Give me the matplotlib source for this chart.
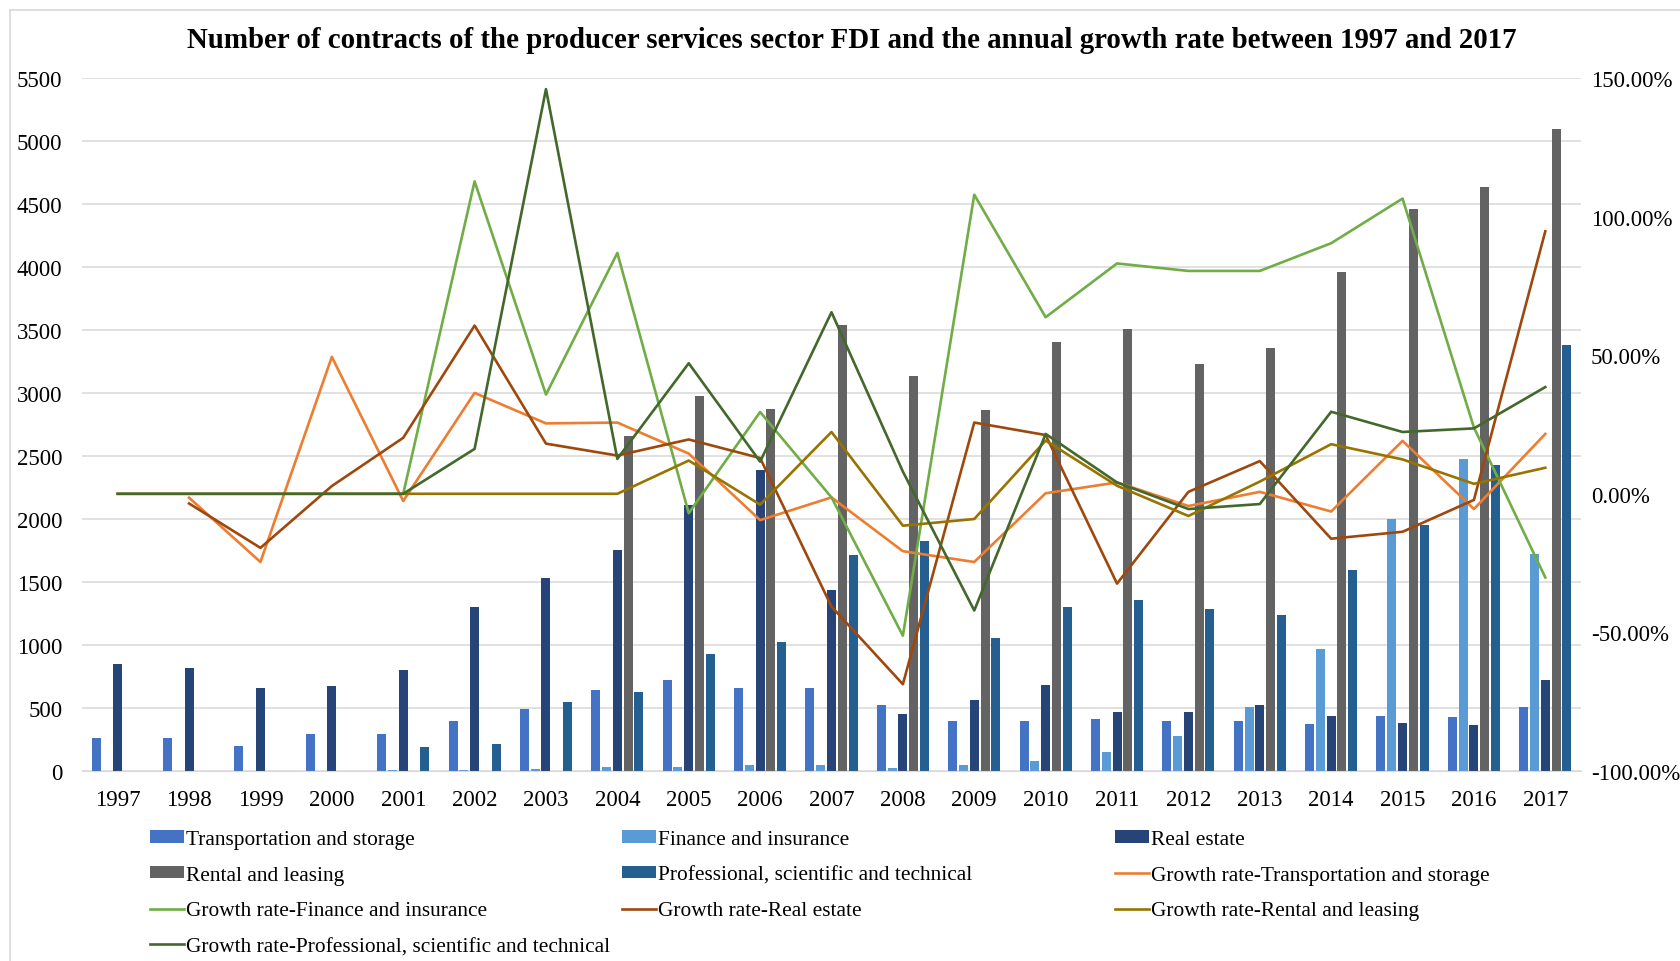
"""
Producer services FDI contracts and annual growth rate, 1997-2017
"""

# Import libraries
import numpy as np
import matplotlib
matplotlib.use('Agg')
import matplotlib.pyplot as plt
from matplotlib.lines import Line2D

plt.rcParams['font.family'] = ['Liberation Serif', 'DejaVu Serif']

# Data
years = [str(y) for y in range(1997, 2018)]

transport = [265, 265, 195, 295, 295, 395, 490, 640, 725, 655, 655, 525, 400, 400, 410, 395, 395, 370, 440, 425, 510]
finance = [0, 0, 0, 0, 5, 5, 18, 34, 34, 48, 48, 24, 48, 79, 150, 277, 507, 967, 2000, 2478, 1726]
real_estate = [847, 819, 661, 674, 803, 1303, 1532, 1757, 2114, 2389, 1439, 450, 566, 683, 467, 467, 522, 434, 380, 365, 723]
rental = [0, 0, 0, 0, 0, 0, 0, 2659, 2979, 2876, 3537, 3138, 2862, 3405, 3511, 3227, 3354, 3957, 4460, 4632, 5092]
professional = [0, 0, 0, 0, 189, 218, 547, 624, 926, 1024, 1715, 1828, 1053, 1299, 1358, 1285, 1241, 1599, 1956, 2431, 3380]

nan = np.nan
g_transport = [nan, -1.4, -24.6, 49.4, -2.6, 36.4, 25.4, 25.7, 14.5, -9.5, -1.3, -20.7, -24.6, 0.2, 4.1, -4.4, 0.7, -6.4, 19.1, -5.5, 21.6]
g_finance = [nan, nan, nan, nan, 0, 112.7, 35.8, 86.9, -7.0, 29.5, -1.3, -51.2, 107.9, 63.7, 83.1, 80.4, 80.4, 90.4, 106.5, 23.9, -30.2]
g_real_estate = [nan, -3.5, -19.5, 2.8, 20.2, 60.7, 18.1, 13.8, 19.6, 12.9, -40.7, -68.7, 25.7, 21.2, -32.4, 0.7, 11.8, -16.2, -13.7, -2.2, 94.7]
g_rental = [0, 0, 0, 0, 0, 0, 0, 0, 12.0, -3.9, 22.3, -11.5, -9.1, 19.2, 2.9, -8.0, 4.4, 17.9, 12.4, 3.6, 9.4]
g_professional = [0, 0, 0, 0, 0, 16.2, 146.0, 12.6, 47.1, 11.6, 65.5, 8.0, -42.1, 21.6, 4.1, -5.5, -3.7, 29.6, 22.3, 23.6, 38.5]

bar_names = ['Transportation and storage', 'Finance and insurance', 'Real estate',
             'Rental and leasing', 'Professional, scientific and technical']
bar_data = [transport, finance, real_estate, rental, professional]
bar_colors = ['#4472C4', '#5B9BD5', '#264478', '#636363', '#255E91']

line_names = ['Growth rate-' + n for n in bar_names]
line_data = [g_transport, g_finance, g_real_estate, g_rental, g_professional]
line_colors = ['#ED7D31', '#70AD47', '#9E480E', '#997300', '#43682B']

# Figure
W, H = 1681, 962
fig = plt.figure(figsize=(W / 100, H / 100), dpi=100)
ax = fig.add_axes([82 / W, 1 - 772 / H, (1581 - 82) / W, (772 - 79) / H])
ax2 = ax.twinx()

x = np.arange(len(years))
slot = 0.151
width = 0.126
for i, (vals, name, col) in enumerate(zip(bar_data, bar_names, bar_colors)):
    ax.bar(x + (i - 2) * slot, vals, width, color=col, label=name, zorder=2)

for vals, name, col in zip(line_data, line_names, line_colors):
    ax2.plot(x, vals, '-', color=col, lw=1.9, label=name)

# Left axis
ax.set_xlim(-0.5, len(years) - 0.5)
ax.set_ylim(0, 5500)
ax.set_yticks(np.arange(0, 5501, 500))
ax.set_xticks(x)
ax.set_xticklabels(years)
ax.grid(axis='y', color='#d9d9d9', lw=1.1, zorder=0)
ax.set_axisbelow(True)
ax.tick_params(axis='x', length=0, pad=13, labelsize=16.5)
ax.tick_params(axis='y', length=0, pad=14, labelsize=16.5)

# Right axis
ax2.set_ylim(-100, 150)
ax2.set_yticks(np.arange(-100, 151, 50))
ax2.set_yticklabels(['{:.2f}%'.format(v) for v in np.arange(-100, 151, 50)])
ax2.tick_params(axis='y', length=0, pad=7, labelsize=16.5)

for a in (ax, ax2):
    for s in a.spines.values():
        s.set_visible(False)
ax.spines['bottom'].set_visible(True)
ax.spines['bottom'].set_color('#d9d9d9')

# Title
fig.text(852 / W, 1 - 41 / H,
         'Number of contracts of the producer services sector FDI and the annual growth rate between 1997 and 2017',
         ha='center', va='center', fontsize=20.8, fontweight='bold')

# Chart border
fig.add_artist(Line2D([10 / W, 1], [1 - 11 / H, 1 - 11 / H], color='#d9d9d9', lw=1.2))
fig.add_artist(Line2D([10 / W, 10 / W], [0, 1 - 11 / H], color='#d9d9d9', lw=1.2))

# Legend, filled row by row in three columns
h1, l1 = ax.get_legend_handles_labels()
h2, l2 = ax2.get_legend_handles_labels()
handles = h1 + h2
labels = l1 + l2
col_x = [150, 622, 1115]
for c in range(3):
    idx = list(range(c, len(handles), 3))
    fig.legend([handles[i] for i in idx], [labels[i] for i in idx],
               loc='upper left', bbox_to_anchor=(col_x[c] / W, 1 - 831 / H),
               frameon=False, fontsize=15.4, borderpad=0, borderaxespad=0,
               handlelength=1.6, handleheight=0.5, handletextpad=0.1,
               labelspacing=0.78)

fig.savefig('out.png', dpi=100)
